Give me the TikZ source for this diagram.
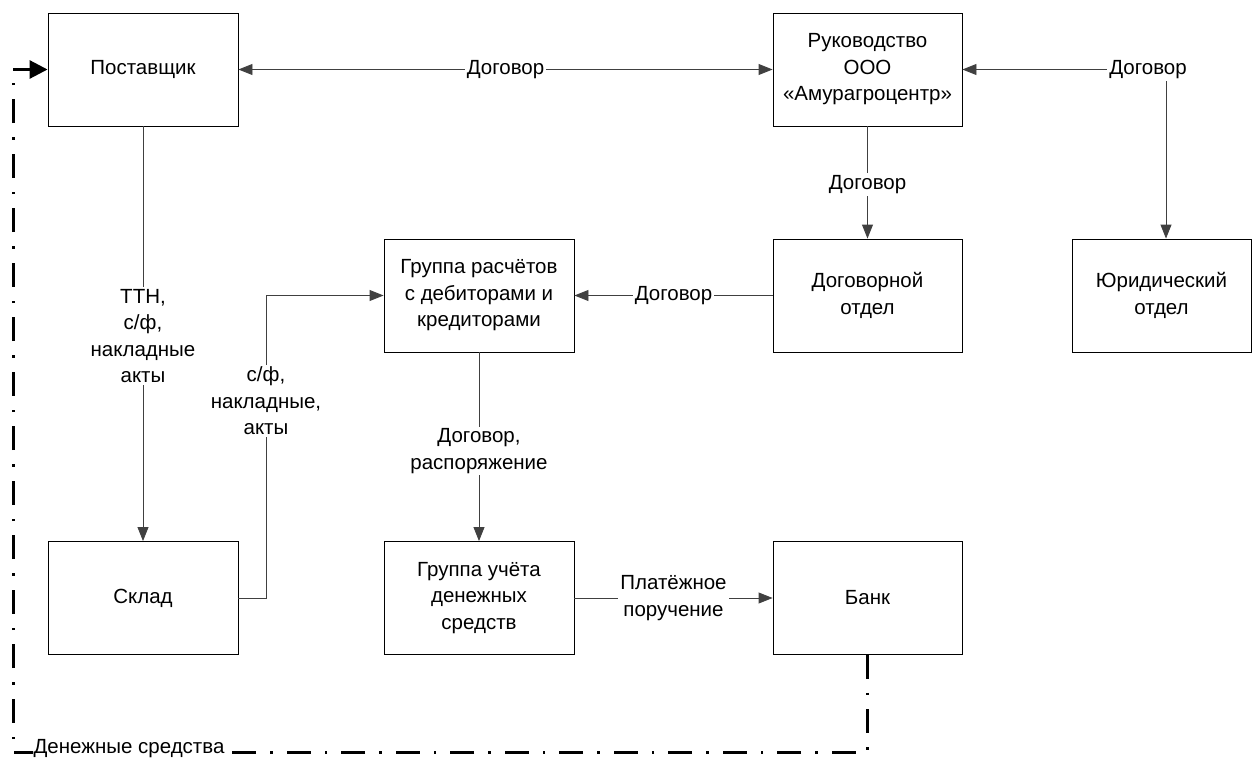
\documentclass[tikz,border=0pt]{standalone}
\usepackage{fontspec}
\setmainfont{Liberation Sans}
\usetikzlibrary{arrows.meta}
\begin{document}
\begin{tikzpicture}[x=1pt,y=-1pt,
 txt/.style={font=\fontsize{20.5}{26.5}\selectfont},
 box/.style={txt, draw=black, line width=0.9pt, minimum width=190pt, minimum height=113pt, inner sep=0pt, align=center},
 conn/.style={draw=black!75, line width=0.9pt, -{Triangle[length=14pt,width=11pt]}},
 lbl/.style={txt, fill=white, inner sep=2pt, align=center},
 money/.style={line width=3pt, dash pattern=on 24pt off 14pt on 2.5pt off 14pt}]
\useasboundingbox (0,0) rectangle (1253,760);

\node[box] (post) at (143,69.5) {Поставщик};
\node[box, minimum width=189pt] (ruk) at (867.5,69.5) {Руководство\\ООО\\«Амурагроцентр»};
\node[box] (grp) at (479,295.5) {Группа расчётов\\с дебиторами и\\кредиторами};
\node[box, minimum width=189pt] (dog) at (867.5,295.5) {Договорной\\отдел};
\node[box, minimum width=179pt] (jur) at (1161.5,295.5) {Юридический\\отдел};
\node[box] (sklad) at (143,598) {Склад};
\node[box] (uchet) at (479,598) {Группа учёта\\денежных\\средств};
\node[box, minimum width=189pt] (bank) at (867.5,598) {Банк};

% connectors
\draw[conn, {Triangle[length=14pt,width=11pt]}-{Triangle[length=14pt,width=11pt]}] (post) -- node[lbl] {Договор} (ruk);
\coordinate (jc) at (1166,69.5);
\draw[conn] (jc) -- (ruk.east);
\draw[conn] (jc) -- (jc |- jur.north);
\node[lbl] (jl) at (1148,69.5) {Договор};
\draw[conn] (ruk) -- node[lbl, yshift=-2pt] {Договор} (dog);
\draw[conn] (dog) -- node[lbl] {Договор} (grp);
\draw[conn] (post) -- (sklad);
\node[lbl] (tl) at (143,336) {ТТН,\\с/ф,\\накладные\\акты};
\coordinate (kb) at (266,0);
\draw[conn] (sklad.east) -| (kb |- grp.west) -- (grp.west);
\node[lbl] (kl) at (266,401) {с/ф,\\накладные,\\акты};
\draw[conn] (grp) -- (uchet);
\node[lbl] (rl) at (479,451) {Договор,\\распоряжение};
\draw[conn] (uchet) -- node[lbl] {Платёжное\\поручение} (bank);

% money flow
\coordinate (m1) at (867.5,752);
\coordinate (m2) at (13,752);
\coordinate (m3) at (13,69.5);
\draw[money] (bank.south) -- (m1) -- (m2) -- (m3);
\draw[line width=3pt, -{Triangle[length=18pt,width=18pt]}] (m3) -- (post.west);
\node[lbl, inner sep=1pt] (ml) at (129,749) {Денежные средства};
\end{tikzpicture}
\end{document}
